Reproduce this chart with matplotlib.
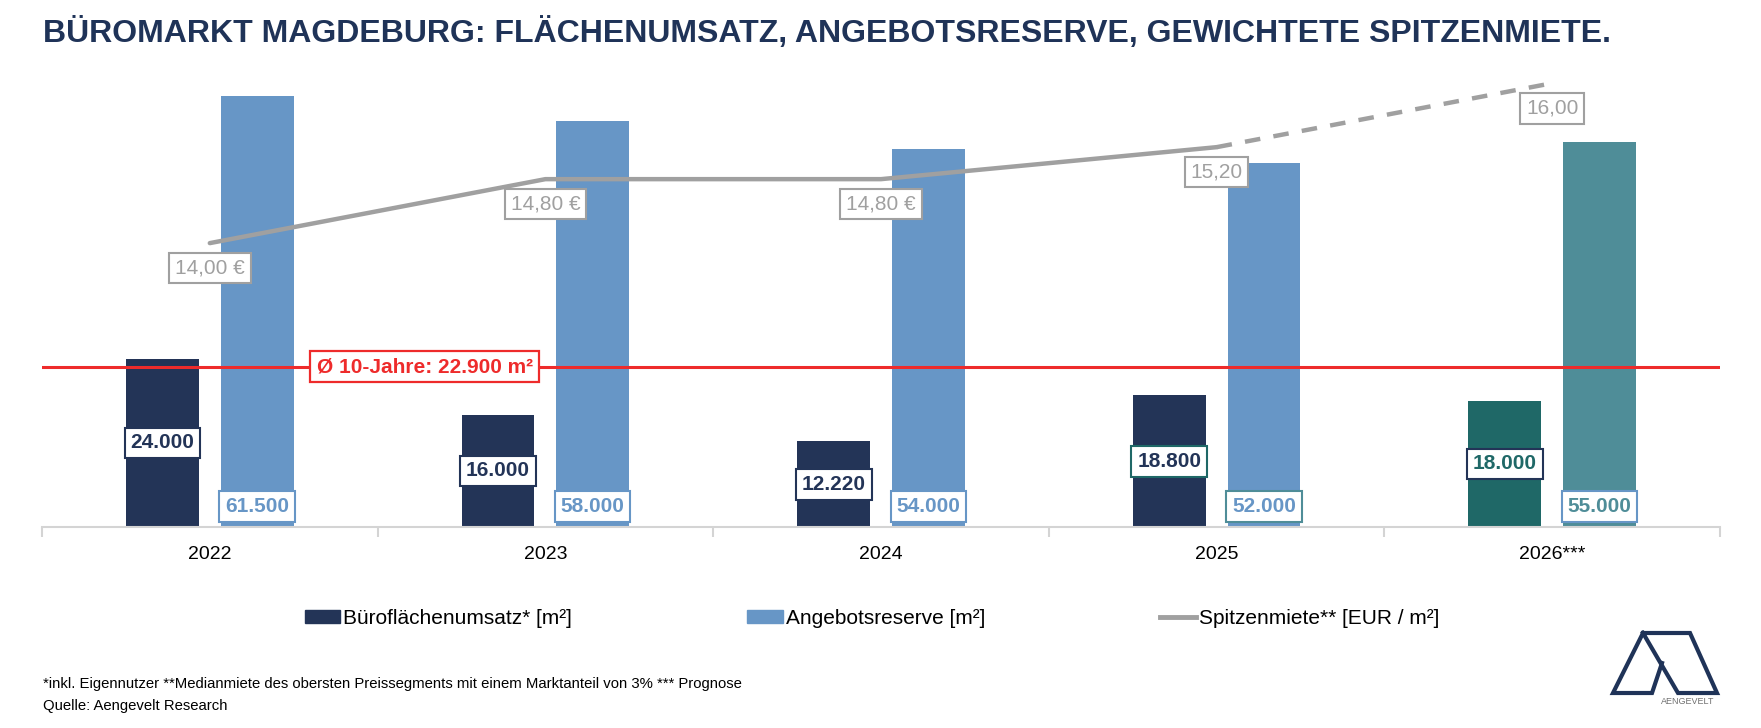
import matplotlib
matplotlib.use("Agg")
import matplotlib.pyplot as plt
import numpy as np
from matplotlib import font_manager
from matplotlib.lines import Line2D
from matplotlib.patches import Patch

# ============================================
# DATEN
# ============================================

jahre = ["2022", "2023", "2024", "2025", "2026***"]
umsatz = [24000, 16000, 12220, 18800, 18000]
reserve = [61500, 58000, 54000, 52000, 55000]
miete = [14.00, 14.80, 14.80, 15.20, 16.00]
umsatz_labels = ["24.000", "16.000", "12.220", "18.800", "18.000"]
reserve_labels = ["61.500", "58.000", "54.000", "52.000", "55.000"]
miete_labels = ["14,00 €", "14,80 €", "14,80 €", "15,20", "16,00"]
schnitt = 22900
schnitt_label = "Ø 10-Jahre: 22.900 m²"

# ============================================
# FARBEN / SCHRIFTEN
# ============================================

navy = "#233457"
blau = "#6796C6"
teal_d = "#1F6867"
teal_h = "#4F8D98"
grau = "#A0A0A0"
rot = "#EE2B2B"

namen = {f.name for f in font_manager.fontManager.ttflist}
narrow = "Liberation Sans Narrow" if "Liberation Sans Narrow" in namen else "Liberation Sans"
plt.rcParams["font.family"] = ["Liberation Sans", "DejaVu Sans"]

W, H = 1761, 728
fig = plt.figure(figsize=(W / 100, H / 100), dpi=100)

# Achsenbereich in Pixeln: x 42..1720, y 60..527
ax = fig.add_axes([42 / W, 1 - 527 / H, (1720 - 42) / W, (527 - 60) / H])
ax2 = ax.twinx()

x = np.arange(len(jahre))
bw = 0.217
off = 0.141

farben_u = [navy, navy, navy, navy, teal_d]
farben_r = [blau, blau, blau, blau, teal_h]

ax.bar(x - off, umsatz, width=bw, color=farben_u, zorder=2)
ax.bar(x + off, reserve, width=bw, color=farben_r, zorder=2)

ax.set_xlim(-0.5, len(jahre) - 0.5)
ax.set_ylim(0, 66700)

# Durchschnittslinie
ax.axhline(schnitt, color=rot, lw=2.2, zorder=3)
ax.text(0.64, schnitt, schnitt_label, color=rot, fontsize=15, fontweight="bold",
        ha="center", va="center", zorder=6,
        bbox=dict(boxstyle="square,pad=0.3", fc="white", ec=rot, lw=1.6))

# Datenbeschriftungen Balken
text_u = [navy, navy, navy, navy, teal_d]
rand_u = [navy, navy, navy, teal_d, navy]
text_r = [blau, blau, blau, blau, teal_h]
rand_r = [blau, blau, blau, teal_h, blau]

for i in range(len(jahre)):
    ax.text(x[i] - off, umsatz[i] / 2, umsatz_labels[i], ha="center", va="center",
            fontsize=15, fontweight="bold", color=text_u[i], zorder=5,
            bbox=dict(boxstyle="square,pad=0.28", fc="white", ec=rand_u[i], lw=1.5))
    ax.text(x[i] + off, 2900, reserve_labels[i], ha="center", va="center",
            fontsize=15, fontweight="bold", color=text_r[i], zorder=5,
            bbox=dict(boxstyle="square,pad=0.28", fc="white", ec=rand_r[i], lw=1.5))

# Spitzenmiete (Sekundärachse)
ax2.set_ylim(10.45, 16.29)
ax2.plot(x[:4], miete[:4], color=grau, lw=3.2, solid_capstyle="round", zorder=4)
ax2.plot(x[3:], miete[3:], color=grau, lw=3.2, dashes=(3.5, 3), zorder=4)

for i in range(len(jahre)):
    ax2.annotate(miete_labels[i], (x[i], miete[i]), xytext=(0, -25),
                 textcoords="offset pixels", ha="center", va="center",
                 fontsize=15, color=grau, zorder=6,
                 bbox=dict(boxstyle="square,pad=0.28", fc="white", ec=grau, lw=1.5))

# Achsen-Styling
for a in (ax, ax2):
    for s in ["top", "right", "left"]:
        a.spines[s].set_visible(False)
    a.set_yticks([])
ax2.spines["bottom"].set_visible(False)
ax.spines["bottom"].set_color("#D4D4D4")
ax.spines["bottom"].set_linewidth(1.5)
ax.set_xticks(x)
ax.set_xticklabels(jahre, fontsize=14)
ax.tick_params(axis="x", length=0, pad=14)
ax.set_xticks(np.arange(len(jahre) + 1) - 0.5, minor=True)
ax.tick_params(axis="x", which="minor", length=7, width=1.5, color="#D4D4D4")

# ============================================
# TITEL, LEGENDE, FUSSNOTEN
# ============================================

fig.text(43 / W, 1 - 33 / H,
         "BÜROMARKT MAGDEBURG: FLÄCHENUMSATZ, ANGEBOTSRESERVE, GEWICHTETE SPITZENMIETE.",
         fontsize=23, fontweight="bold", color="#1F3358", family=narrow,
         ha="left", va="center")

handles = [
    Patch(color=navy, label="Büroflächenumsatz* [m²]"),
    Patch(color=blau, label="Angebotsreserve [m²]"),
    Line2D([0], [0], color=grau, lw=3.5, label="Spitzenmiete** [EUR / m²]"),
]
fig.legend(handles=handles, loc="center", bbox_to_anchor=(872 / W, 1 - 618 / H),
           ncol=3, frameon=False, prop={"family": narrow, "size": 15},
           handlelength=1.7, handleheight=0.6, handletextpad=0.15, columnspacing=8.4)

fig.text(43 / W, 1 - 684 / H,
         "*inkl. Eigennutzer **Medianmiete des obersten Preissegments mit einem Marktanteil von 3% *** Prognose",
         fontsize=10.7, family=narrow, ha="left", va="center")
fig.text(43 / W, 1 - 706 / H, "Quelle: Aengevelt Research",
         fontsize=10.7, family=narrow, ha="left", va="center")

# Logo
def px(pts):
    return [p[0] / W for p in pts], [1 - p[1] / H for p in pts]

logo_band = [(1643, 633), (1690, 633), (1717, 693), (1678, 693), (1643, 633)]
logo_bein = [(1643, 633), (1613, 693), (1652, 693), (1662, 663)]
for pts in (logo_band, logo_bein):
    xs, ys = px(pts)
    fig.add_artist(Line2D(xs, ys, transform=fig.transFigure, color="#1F3358",
                          lw=3.0, solid_joinstyle="miter"))
fig.text(1688 / W, 1 - 702 / H, "AENGEVELT", fontsize=6.5, color="#707070",
         ha="center", va="center")

plt.savefig("out.png", dpi=100)
